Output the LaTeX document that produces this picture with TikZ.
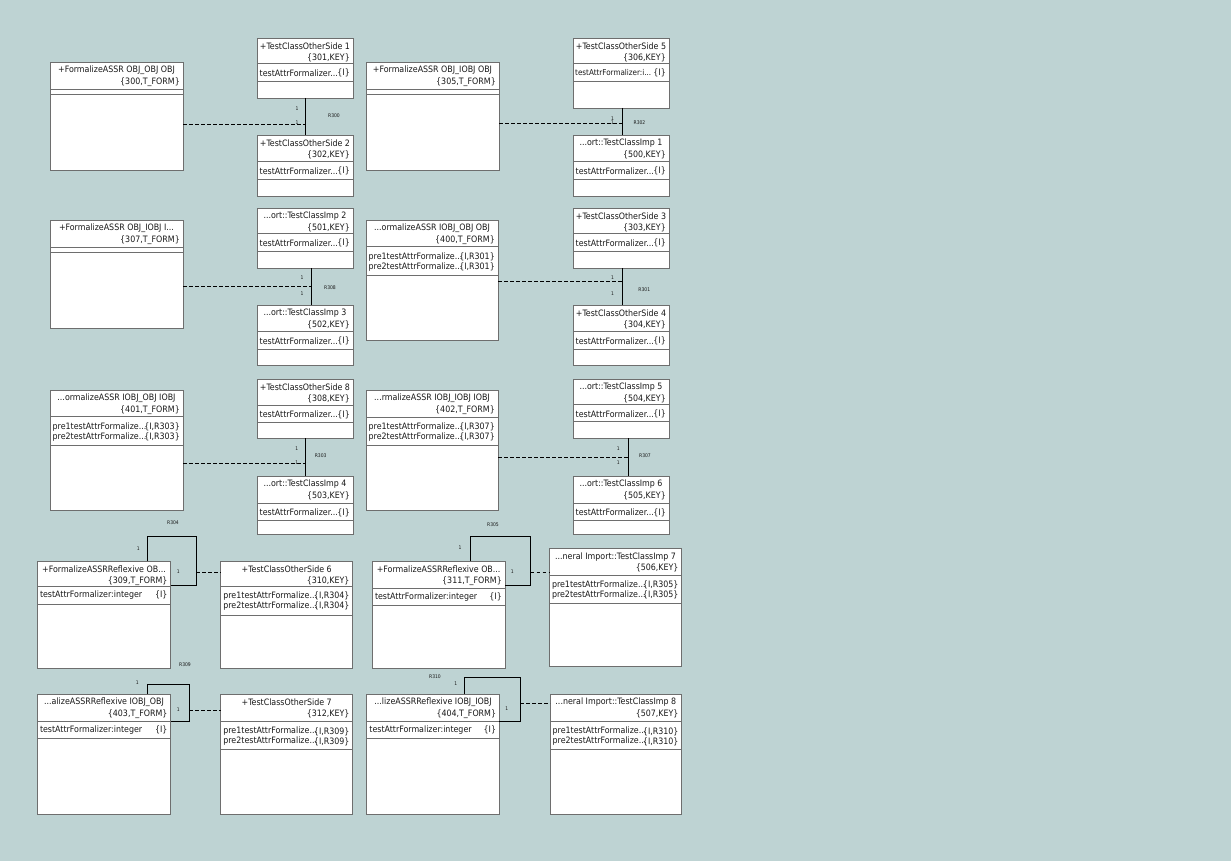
\documentclass[tikz,border=0pt]{standalone}
\usepackage{fontspec}
\setmainfont{DejaVu Sans Condensed}
\usetikzlibrary{calc}

\definecolor{canvas}{RGB}{190,211,211}
\definecolor{frame}{RGB}{110,110,110}
\definecolor{ink}{RGB}{25,25,25}

\tikzset{
  classframe/.style={draw=frame, line width=0.9pt, fill=white, anchor=north west,
    inner sep=0pt, outer sep=0pt, rectangle},
  classrule/.style={draw=frame, line width=0.9pt},
  txt/.style={font=\fontsize{8.8}{10}\selectfont, inner sep=0pt, text=ink},
  tighttxt/.style={txt, font=\fontsize{8.0}{10}\selectfont},
  lbl/.style={font=\fontsize{5}{6}\selectfont, inner sep=0pt, text=ink},
  assoc/.style={draw=black, line width=0.9pt},
  link/.style={draw=black, line width=0.8pt, dash pattern=on 3.5pt off 2.5pt},
}

% #1 name, #2 left, #3 top, #4 width, #5 height, #6 header height,
% #7 attribute compartment height, #8 class name, #9 key line
\newcommand\classbox[9]{%
  \node[classframe, minimum width=#4pt, minimum height=#5pt] (#1) at (#2,#3) {};
  \draw[classrule] ([yshift=-#6pt]#1.north west) -- ([yshift=-#6pt]#1.north east);
  \draw[classrule] ([yshift=-#6pt-#7pt]#1.north west) -- ([yshift=-#6pt-#7pt]#1.north east);
  \node[txt] (#1-title) at ([yshift=-8.5pt]#1.north) {#8};
  \node[txt, anchor=east] (#1-key) at ([xshift=-3pt,yshift=-20pt]#1.north east) {#9};
}
% #1 box, #2 offset from top, #3 attribute, #4 tag, #5 id
\newcommand\attrline[5]{%
  \node[txt, anchor=west] (#1-a#5) at ([xshift=2.5pt,yshift=-#2pt]#1.north west) {#3};
  \node[txt, anchor=east] (#1-t#5) at ([xshift=-3pt,yshift=-#2pt]#1.north east) {#4};
}
% same, with a narrower attribute name
\newcommand\tightattrline[5]{%
  \node[tighttxt, anchor=west] (#1-a#5) at ([xshift=2pt,yshift=-#2pt]#1.north west) {#3};
  \node[txt, anchor=east] (#1-t#5) at ([xshift=-3pt,yshift=-#2pt]#1.north east) {#4};
}

\begin{document}
\begin{tikzpicture}[x=1pt, y=-1pt]
\useasboundingbox (0,0) rectangle (1231,861);
\fill[canvas] (0,0) rectangle (1231,861);

% ---------- row 1 ----------
\classbox{a1}{50}{62}{133}{108}{27}{5}{+FormalizeASSR OBJ\_OBJ OBJ}{\{300,T\_FORM\}}
\classbox{b1}{257}{38}{96}{60}{25}{18}{+TestClassOtherSide 1}{\{301,KEY\}}
\attrline{b1}{35}{testAttrFormalizer...}{\{I\}}{1}
\classbox{b2}{257}{135}{96}{61}{26}{18}{+TestClassOtherSide 2}{\{302,KEY\}}
\attrline{b2}{36}{testAttrFormalizer...}{\{I\}}{1}

\coordinate (j300) at (305.5,124);
\draw[assoc] (b1.south -| j300) -- (b2.north -| j300);
\draw[link] (a1.east |- j300) -- (j300);
\node[lbl] (m300a) at (297,108.5) {1};
\node[lbl] (m300b) at (297,123) {1};
\node[lbl] (n300) at (334,115.5) {R300};

\classbox{a2}{366}{62}{133}{108}{27}{5}{+FormalizeASSR OBJ\_IOBJ OBJ}{\{305,T\_FORM\}}
\classbox{b3}{573}{38}{96}{70}{25}{18}{+TestClassOtherSide 5}{\{306,KEY\}}
\tightattrline{b3}{35}{testAttrFormalizer:i...}{\{I\}}{1}
\classbox{b4}{573}{135}{96}{61}{26}{18}{...ort::TestClassImp 1}{\{500,KEY\}}
\attrline{b4}{36}{testAttrFormalizer...}{\{I\}}{1}

\coordinate (j302) at (622.3,123.5);
\draw[assoc] (b3.south -| j302) -- (b4.north -| j302);
\draw[link] (a2.east |- j302) -- (j302);
\node[lbl] (m302a) at (612.5,118.5) {1};
\node[lbl] (m302b) at (612.5,122.5) {1};
\node[lbl] (n302) at (639.5,122.5) {R302};

% ---------- row 2 ----------
\classbox{a3}{50}{220}{133}{108}{27.5}{5}{+FormalizeASSR OBJ\_IOBJ I...}{\{307,T\_FORM\}}
\classbox{b5}{257}{208}{96}{60}{25}{18}{...ort::TestClassImp 2}{\{501,KEY\}}
\attrline{b5}{35}{testAttrFormalizer...}{\{I\}}{1}
\classbox{b6}{257}{305}{96}{60}{26}{18}{...ort::TestClassImp 3}{\{502,KEY\}}
\attrline{b6}{36}{testAttrFormalizer...}{\{I\}}{1}

\coordinate (j308) at (311.7,286.7);
\draw[assoc] (b5.south -| j308) -- (b6.north -| j308);
\draw[link] (a3.east |- j308) -- (j308);
\node[lbl] (m308a) at (302,278) {1};
\node[lbl] (m308b) at (302,293.5) {1};
\node[lbl] (n308) at (330,287.7) {R308};

\classbox{a4}{366}{220}{132}{120}{26.7}{28.3}{...ormalizeASSR IOBJ\_OBJ OBJ}{\{400,T\_FORM\}}
\attrline{a4}{36.7}{pre1testAttrFormalize...}{\{I,R301\}}{1}
\attrline{a4}{46.7}{pre2testAttrFormalize...}{\{I,R301\}}{2}
\classbox{b7}{573}{208}{96}{60}{25}{18}{+TestClassOtherSide 3}{\{303,KEY\}}
\attrline{b7}{35}{testAttrFormalizer...}{\{I\}}{1}
\classbox{b8}{573}{305}{96}{60}{26}{18}{+TestClassOtherSide 4}{\{304,KEY\}}
\attrline{b8}{36}{testAttrFormalizer...}{\{I\}}{1}

\coordinate (j301) at (622.3,281);
\draw[assoc] (b7.south -| j301) -- (b8.north -| j301);
\draw[link] (a4.east |- j301) -- (j301);
\node[lbl] (m301a) at (612.5,277.7) {1};
\node[lbl] (m301b) at (612.5,294) {1};
\node[lbl] (n301) at (644.3,290) {R301};

% ---------- row 3 ----------
\classbox{a5}{50}{390}{133}{120}{26.7}{28.3}{...ormalizeASSR IOBJ\_OBJ IOBJ}{\{401,T\_FORM\}}
\attrline{a5}{36.7}{pre1testAttrFormalize...}{\{I,R303\}}{1}
\attrline{a5}{46.7}{pre2testAttrFormalize...}{\{I,R303\}}{2}
\classbox{b9}{257}{379}{96}{59}{26}{17}{+TestClassOtherSide 8}{\{308,KEY\}}
\attrline{b9}{35.5}{testAttrFormalizer...}{\{I\}}{1}
\classbox{b10}{257}{476}{96}{58}{27}{17}{...ort::TestClassImp 4}{\{503,KEY\}}
\attrline{b10}{36.5}{testAttrFormalizer...}{\{I\}}{1}

\coordinate (j303) at (305.7,463.3);
\draw[assoc] (b9.south -| j303) -- (b10.north -| j303);
\draw[link] (a5.east |- j303) -- (j303);
\node[lbl] (m303a) at (296.7,449) {1};
\node[lbl] (m303b) at (296.7,462.5) {1};
\node[lbl] (n303) at (320.7,456) {R303};

\classbox{a6}{366}{390}{132}{120}{27}{28}{...rmalizeASSR IOBJ\_IOBJ IOBJ}{\{402,T\_FORM\}}
\attrline{a6}{37}{pre1testAttrFormalize...}{\{I,R307\}}{1}
\attrline{a6}{47}{pre2testAttrFormalize...}{\{I,R307\}}{2}
\classbox{b11}{573}{379}{96}{59}{25}{17.5}{...ort::TestClassImp 5}{\{504,KEY\}}
\attrline{b11}{35}{testAttrFormalizer...}{\{I\}}{1}
\classbox{b12}{573}{476}{96}{58}{27}{17}{...ort::TestClassImp 6}{\{505,KEY\}}
\attrline{b12}{36.5}{testAttrFormalizer...}{\{I\}}{1}

\coordinate (j307) at (628.3,457.3);
\draw[assoc] (b11.south -| j307) -- (b12.north -| j307);
\draw[link] (a6.east |- j307) -- (j307);
\node[lbl] (m307a) at (618.3,449) {1};
\node[lbl] (m307b) at (618.3,463) {1};
\node[lbl] (n307) at (645,456) {R307};

% ---------- row 4 ----------
\classbox{c1}{37.3}{561}{133.4}{107.3}{25}{18.3}{+FormalizeASSRReflexive OB...}{\{309,T\_FORM\}}
\attrline{c1}{34}{testAttrFormalizer:integer}{\{I\}}{1}
\classbox{d1}{220.7}{561}{132}{107.3}{25}{29}{+TestClassOtherSide 6}{\{310,KEY\}}
\attrline{d1}{35}{pre1testAttrFormalize...}{\{I,R304\}}{1}
\attrline{d1}{45}{pre2testAttrFormalize...}{\{I,R304\}}{2}

\coordinate (l304a) at (147.3,536);
\coordinate (l304b) at (196,585.3);
\draw[assoc] (c1.north -| l304a) -- (l304a) -| (l304b) -- (c1.east |- l304b);
\coordinate (k304) at (196,572.7);
\draw[link] (k304) -- (d1.west |- k304);
\node[lbl] (m304a) at (138.3,548.3) {1};
\node[lbl] (m304b) at (178.3,571.7) {1};
\node[lbl] (n304) at (173,523) {R304};

\classbox{c2}{372.3}{561}{132.7}{107.3}{27.3}{16.7}{+FormalizeASSRReflexive OB...}{\{311,T\_FORM\}}
\attrline{c2}{36}{testAttrFormalizer:integer}{\{I\}}{1}
\classbox{d2}{549.3}{548.3}{132.4}{118.4}{27.4}{27.6}{...neral Import::TestClassImp 7}{\{506,KEY\}}
\attrline{d2}{37}{pre1testAttrFormalize...}{\{I,R305\}}{1}
\attrline{d2}{47}{pre2testAttrFormalize...}{\{I,R305\}}{2}

\coordinate (l305a) at (470,536);
\coordinate (l305b) at (530.7,585);
\draw[assoc] (c2.north -| l305a) -- (l305a) -| (l305b) -- (c2.east |- l305b);
\coordinate (k305) at (530.7,572.7);
\draw[link] (k305) -- (d2.west |- k305);
\node[lbl] (m305a) at (460,548) {1};
\node[lbl] (m305b) at (512.3,571.7) {1};
\node[lbl] (n305) at (493,525) {R305};

% ---------- row 5 ----------
\classbox{c3}{37.3}{694}{133.4}{120}{27.7}{16.6}{...alizeASSRReflexive IOBJ\_OBJ}{\{403,T\_FORM\}}
\attrline{c3}{36}{testAttrFormalizer:integer}{\{I\}}{1}
\classbox{d3}{220.7}{694}{132}{120}{27.7}{27.3}{+TestClassOtherSide 7}{\{312,KEY\}}
\attrline{d3}{37.5}{pre1testAttrFormalize...}{\{I,R309\}}{1}
\attrline{d3}{47.5}{pre2testAttrFormalize...}{\{I,R309\}}{2}

\coordinate (l309a) at (147.3,684);
\coordinate (l309b) at (189.3,721.7);
\draw[assoc] (c3.north -| l309a) -- (l309a) -| (l309b) -- (c3.east |- l309b);
\coordinate (k309) at (189.3,710.7);
\draw[link] (k309) -- (d3.west |- k309);
\node[lbl] (m309a) at (137.3,682.7) {1};
\node[lbl] (m309b) at (178.3,709.3) {1};
\node[lbl] (n309) at (185,665) {R309};

\classbox{c4}{366.7}{694}{132.6}{120}{27.7}{16.6}{...lizeASSRReflexive IOBJ\_IOBJ}{\{404,T\_FORM\}}
\attrline{c4}{36}{testAttrFormalizer:integer}{\{I\}}{1}
\classbox{d4}{550}{694}{131.7}{120}{27.7}{27.3}{...neral Import::TestClassImp 8}{\{507,KEY\}}
\attrline{d4}{37.5}{pre1testAttrFormalize...}{\{I,R310\}}{1}
\attrline{d4}{47.5}{pre2testAttrFormalize...}{\{I,R310\}}{2}

\coordinate (l310a) at (464.3,677.3);
\coordinate (l310b) at (520,721.7);
\draw[assoc] (c4.north -| l310a) -- (l310a) -| (l310b) -- (c4.east |- l310b);
\coordinate (k310) at (520,703.3);
\draw[link] (k310) -- (d4.west |- k310);
\node[lbl] (m310a) at (455.7,683.3) {1};
\node[lbl] (m310b) at (506.7,709) {1};
\node[lbl] (n310) at (435,676.7) {R310};
\end{tikzpicture}
\end{document}
